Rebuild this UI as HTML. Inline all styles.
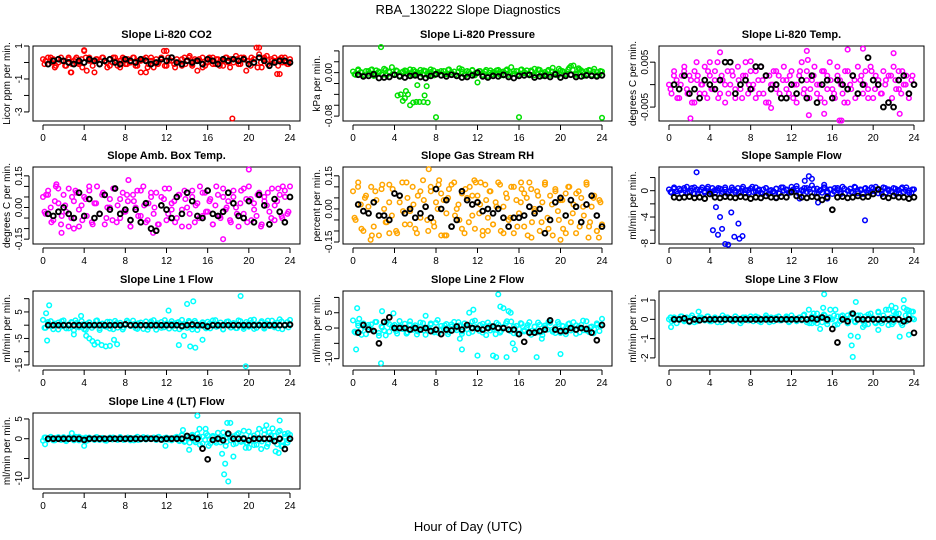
<!DOCTYPE html>
<html><head><meta charset="utf-8"><style>
body{margin:0;background:#fff}
svg{display:block;font-family:"Liberation Sans",sans-serif}
</style></head><body>
<svg id="c" width="936" height="540" viewBox="0 0 936 540">
<text x="468" y="14" font-size="13" text-anchor="middle">RBA_130222  Slope Diagnostics</text>
<text x="468" y="531" font-size="13" text-anchor="middle">Hour of Day (UTC)</text>
</svg>
<script>
// ---- data ----
const titles=["Slope Li-820 CO2","Slope Li-820 Pressure","Slope Li-820 Temp.","Slope Amb. Box Temp.","Slope Gas Stream RH","Slope Sample Flow","Slope Line 1 Flow","Slope Line 2 Flow","Slope Line 3 Flow","Slope Line 4 (LT) Flow"];
const yTitles=["Licor ppm per min.","kPa per min.","degrees C per min.","degrees C per min.","percent per min.","ml/min per min.","ml/min per min.","ml/min per min.","ml/min per min.","ml/min per min."];
const xTicks=[0,4,8,12,16,20,24];
const yDomains=[[1.0,-3.55],[0.049,-0.089],[0.0086,-0.0081],[0.192,-0.173],[0.19,-0.159],[3.6,-8.1],[12.9,-15.4],[12.1,-12.4],[1.47,-2.42],[6.5,-12.7]];
const yTicks=[[1,0,-1,-2,-3],[0.04,0.02,0,-0.02,-0.04,-0.06,-0.08],[0.005,0,-0.005],[0.15,0.10,0.05,0,-0.05,-0.10,-0.15],[0.15,0.10,0.05,0,-0.05,-0.10,-0.15],[2,0,-2,-4,-6,-8],[10,5,0,-5,-10,-15],[10,5,0,-5,-10],[1,0,-1,-2],[5,0,-5,-10]];
const yTickLabels=[["1","","-1","","-3"],["","","0.00","","","","-0.08"],["0.005","","-0.005"],["0.15","","","0.00","","","-0.15"],["0.15","","","0.00","","","-0.15"],["","0","","-4","","-8"],["","5","","-5","","-15"],["","5","0","","-10"],["1","0","-1","-2"],["5","0","","-10"]];
const colors=["#ff0000","#00e000","#ff00ff","#ff00ff","#ffa500","#0000ff","#00ffff","#00ffff","#00ffff","#00ffff"];

const band0=[0.2,0.1,-0.1,0.3,0.2,-0.2,0.0,0.3,0.1,-0.2,0.2,-0.6,0.1,0.3,-0.1,0.2,0.7,-0.5,0.3,0.1,-0.6,0.2,-0.1,0.3,0.1,-0.3,0.2,0.0,0.3,-0.2,0.1,0.3,-0.1,0.2,0.0,0.3,-0.2,0.1,-0.6,0.2,0.3,-0.1,0.1,-0.3,0.2,0.0,0.3,0.7,-0.2,0.1,0.3,-0.1,0.2,0.0,-0.2,0.3,0.1,0.4,-0.1,0.2,-0.5,0.1,0.3,-0.2,0.0,0.2,0.3,-0.1,0.2,0.1,-0.2,0.3,0.0,0.2,0.2,0.4,-0.1,0.3,0.2,-0.5,0.1,0.3,0.2,0.9,0.5,-0.3,0.2,0.4,-0.2,0.1,0.3,-0.7,0.2,0.0,0.3,-0.1,0.2];
const bandB0=[-0.1,0.3,0.0,-0.3,0.2,0.1,-0.2,0.3,-0.1,0.2,0.0,-0.3,0.3,0.1,-0.2,0.2,-0.1,0.3,0.0,-0.2,0.3,0.1,-0.3,0.2,-0.1,0.0,0.3,-0.2,0.1,0.2,-0.3,0.3,0.0,-0.1,0.2,-0.2,0.3,0.1,-0.3,0.0,0.2,-0.1,0.3,-0.2,0.1,0.2,-0.3,0.0,0.3,-0.1,0.2,-0.2,0.1,0.3,-0.3,0.0,0.2,-0.1,0.3,0.1,-0.2,0.2,-0.3,0.0,0.3,-0.1,0.2,0.1,-0.2,0.3,0.0,-0.1];
const outX0=[18.4,4.0,12.0,2.7,10.0,21.0,23.0];
const outY0=[-3.4,0.75,0.7,-0.6,-0.6,0.9,-0.7];
const black0=[-0.1,0.1,0.2,0.1,0.0,-0.1,0.1,0.0,0.2,0.1,-0.1,0.1,0.2,0.0,-0.1,0.2,0.1,0.0,0.2,0.1,-0.1,0.0,0.2,0.1,0.3,0.0,-0.1,0.1,0.0,0.1,-0.1,0.2,0.1,-0.1,0.2,0.1,0.2,0.1,0.2,-0.1,0.0,0.3,0.1,-0.2,0.0,0.1,0.1,0.0];

const band1=[0.002,-0.004,0.006,0.001,-0.005,0.003,-0.002,0.005,-0.006,0.004,0.000,-0.003,0.007,-0.005,0.002,0.010,-0.004,0.003,-0.006,0.001,0.004,-0.003,0.006,-0.005,0.002,-0.001,0.005,-0.004,0.003,-0.006,0.001,0.004,-0.002,0.000,-0.005,0.003,-0.003,0.006,-0.004,0.002,-0.006,0.008,0.001,-0.004,0.003,-0.002,0.005,-0.005,0.000,0.003,-0.004,0.002,-0.006,0.004,0.001,-0.003,0.005,-0.005,0.002,0.004,-0.004,0.010,-0.002,0.003,-0.006,0.006,-0.001,0.004,-0.005,0.002,0.007,-0.003,0.005,-0.006,0.001,0.003,-0.004,0.009,0.000,-0.005,0.004,0.002,-0.003,0.006,0.012,0.013,-0.002,0.008,0.004,-0.006,0.003,0.005,-0.004,0.007,0.001,-0.003,0.002];
const bandB1=[-0.003,0.004,0.000,-0.005,0.003,0.006,-0.002,0.002,-0.004,0.005,0.001,-0.003,0.004,-0.006,0.002,0.003,-0.001,0.005,-0.004,0.000,0.004,-0.002,0.006,-0.005,0.001,0.003,-0.003,0.005,0.000,-0.004,0.002,0.006,-0.005,0.001,0.004,-0.002,0.003,-0.006,0.005,0.000,-0.003,0.004,0.002,-0.005,0.006,-0.001,0.003,-0.004,0.005,0.001,-0.002,0.004,-0.005,0.006,0.000,-0.003,0.005,0.002,-0.004,0.007,0.003,-0.002,0.009,0.005,-0.004,0.006,0.001,-0.003,0.004,0.002,-0.005,0.003];
const outX1=[2.7,4.3,4.6,4.8,5.0,5.1,5.3,5.5,5.8,6.1,6.4,6.8,6.9,7.2,6.2,7.1,8.0,12.0,16.0,24.0];
const outY1=[0.047,-0.042,-0.040,-0.052,-0.047,-0.034,-0.040,-0.060,-0.055,-0.054,-0.054,-0.054,-0.042,-0.055,-0.023,-0.025,-0.082,-0.018,-0.082,-0.083];
const black1=[-0.004,-0.007,-0.006,-0.003,-0.010,-0.009,-0.008,-0.004,-0.007,-0.009,-0.006,-0.005,-0.008,-0.010,-0.006,-0.003,-0.005,-0.007,-0.004,-0.006,-0.009,-0.008,-0.005,0.000,-0.007,-0.009,-0.006,-0.007,-0.004,-0.008,-0.010,-0.006,-0.005,-0.004,-0.009,-0.007,-0.006,-0.008,-0.003,-0.009,-0.006,-0.004,-0.008,-0.007,-0.005,-0.006,-0.007,-0.005];

const band2=[0.000,-0.002,0.003,0.001,-0.003,0.002,0.004,-0.001,0.002,-0.004,0.003,0.001,-0.002,0.000,0.004,-0.003,0.002,-0.001,0.003,0.005,-0.002,0.001,-0.004,0.003,0.000,0.002,-0.003,0.004,-0.001,0.002,0.005,-0.002,0.003,0.000,-0.003,0.001,0.004,-0.002,0.002,-0.004,0.000,0.003,-0.001,0.002,-0.003,0.004,0.001,-0.002,0.003,0.000,-0.004,0.002,0.005,-0.001,0.003,-0.003,0.001,0.004,-0.002,0.000,0.003,-0.004,0.002,0.005,-0.001,-0.003,0.004,0.001,-0.002,0.003,-0.004,0.000,0.002,-0.003,0.004,0.001,-0.002,0.003,-0.001,0.004,-0.003,0.002,0.000,-0.002,0.003,0.001,-0.004,0.002,0.004,-0.001,0.003,-0.002,0.000,0.002,-0.003,0.001,0.000];
const bandB2=[-0.001,0.002,-0.003,0.000,0.003,-0.002,0.001,-0.004,0.002,0.000,-0.002,0.003,-0.001,0.001,-0.003,0.002,0.000,-0.002,0.003,-0.001,0.001,-0.003,0.002,0.000,-0.001,0.003,-0.002,0.001,-0.004,0.002,0.000,0.003,-0.002,0.001,-0.001,0.002,-0.003,0.000,0.003,-0.002,0.001,-0.001,0.002,0.000,-0.003,0.003,-0.001,0.001,-0.002,0.002,0.000,-0.004,0.003,-0.001,0.001,-0.002,0.002,0.000,-0.003,0.003,-0.001,0.001,-0.002,0.000,0.002,-0.003,0.001,-0.001,0.003,0.000,-0.002,0.002];
const outX2=[2.1,5.0,8.0,13.5,13.7,17.5,19.0,22.0,15.2,10.0,16.7,16.9,13.6,22.6,4.0,2.7];
const outY2=[-0.0075,0.0072,0.0052,0.0075,-0.0068,0.0078,0.0080,0.0070,-0.0065,-0.0052,-0.0080,-0.0080,0.0055,-0.0065,0.0050,0.0050];
const black2=[0.000,-0.001,0.002,-0.002,-0.001,-0.003,0.001,0.000,-0.001,0.001,0.005,0.005,-0.002,0.000,0.001,-0.001,0.004,0.004,0.002,-0.001,0.000,-0.003,-0.003,0.000,-0.002,0.001,-0.003,0.002,-0.004,0.000,0.001,-0.003,0.001,0.000,-0.001,0.002,-0.002,0.000,0.006,0.001,0.000,-0.005,-0.004,-0.005,0.001,0.002,-0.002,0.000];

const band3=[0.05,-0.03,0.08,0.00,-0.06,0.10,0.02,-0.08,0.06,-0.02,0.09,-0.05,0.03,0.07,-0.09,0.01,0.05,-0.04,0.08,-0.07,0.02,0.10,-0.03,0.06,-0.08,0.00,0.04,-0.06,0.09,0.01,-0.05,0.07,-0.02,0.03,-0.09,0.06,0.00,-0.04,0.08,0.10,-0.07,0.02,0.05,-0.03,0.07,-0.08,0.01,0.04,-0.06,0.09,-0.01,0.03,-0.05,0.06,-0.09,0.08,0.00,-0.03,0.05,-0.07,0.02,0.10,-0.04,0.07,-0.02,0.04,-0.08,0.01,0.06,-0.05,0.09,-0.01,0.03,-0.07,0.05,0.00,-0.09,0.08,-0.03,0.04,0.10,-0.06,0.02,-0.04,0.07,-0.08,0.05,0.01,-0.02,0.09,-0.06,0.03,0.06,-0.05,0.08,-0.03,0.10];
const bandB3=[-0.02,0.06,-0.07,0.03,0.09,-0.04,0.01,-0.09,0.05,0.08,-0.01,-0.06,0.04,0.10,-0.08,0.02,-0.03,0.07,-0.05,0.00,0.09,-0.07,0.04,-0.02,0.06,-0.09,0.03,0.08,-0.04,0.01,-0.06,0.07,0.00,-0.08,0.05,0.09,-0.03,0.02,-0.07,0.06,-0.01,0.04,-0.09,0.08,0.01,-0.05,0.07,-0.02,0.03,-0.08,0.10,-0.04,0.05,0.00,-0.06,0.08,-0.03,0.02,0.09,-0.07,0.04,-0.01,0.06,-0.09,0.03,0.07,-0.05,0.01,0.09,-0.04,0.05,-0.02];
const outX3=[1.3,0.3,1.8,3.0,10.7,17.5,20.0,8.3,23.3];
const outY3=[0.11,0.06,-0.12,-0.10,-0.12,-0.15,0.18,0.13,0.10];
const black3=[-0.03,-0.04,-0.02,0.00,-0.03,-0.05,0.07,-0.04,0.04,-0.05,-0.03,0.06,-0.01,0.09,-0.03,-0.01,-0.06,-0.01,-0.07,0.02,-0.10,-0.11,0.01,-0.01,-0.05,0.05,-0.03,0.07,0.03,-0.04,-0.05,0.08,-0.03,-0.04,-0.02,0.07,0.02,-0.04,-0.05,0.03,-0.07,0.06,0.01,-0.08,0.04,-0.02,-0.07,0.05];

const band4=[0.08,-0.05,0.12,0.02,-0.10,0.06,-0.02,0.10,-0.08,0.04,-0.12,0.09,0.00,-0.06,0.11,-0.03,0.07,-0.11,0.03,0.12,-0.07,0.05,-0.01,0.10,-0.09,0.06,-0.04,0.13,0.01,-0.10,0.08,-0.06,0.03,0.11,-0.12,0.04,-0.02,0.09,-0.08,0.12,0.00,-0.05,0.07,-0.11,0.05,0.10,-0.03,-0.09,0.06,0.02,-0.12,0.11,-0.04,0.08,-0.07,0.03,0.12,-0.10,0.01,0.07,-0.05,0.10,-0.11,0.04,-0.02,0.09,-0.08,0.05,0.12,-0.06,0.00,0.08,-0.10,0.03,0.11,-0.04,0.06,-0.12,0.09,-0.01,0.04,-0.09,0.07,0.10,-0.06,0.02,-0.11,0.08,0.05,-0.03,0.12,-0.08,0.01,0.06,-0.10,0.04,-0.07];
const bandB4=[-0.04,0.10,-0.09,0.05,0.01,-0.12,0.08,-0.03,0.11,-0.06,0.03,0.09,-0.10,0.06,-0.01,0.12,-0.07,0.02,-0.11,0.08,0.04,-0.05,0.10,-0.08,0.00,0.07,-0.12,0.05,0.11,-0.03,0.02,-0.09,0.09,-0.06,0.06,0.12,-0.02,-0.10,0.04,0.08,-0.07,0.01,0.11,-0.11,0.05,-0.04,0.10,-0.08,0.03,0.07,-0.12,0.09,-0.01,0.06,-0.06,0.12,-0.09,0.02,0.08,-0.05,0.04,-0.11,0.10,-0.02,0.07,-0.08,0.01,0.11,-0.06,0.05,-0.10,0.03];
const outX4=[1.7,7.3,8.3,3.5,11.7,16.2,17.2,20.0,22.7,23.7,13.0,12.3,9.0];
const outY4=[-0.14,0.18,0.13,-0.11,0.13,0.12,-0.13,-0.14,-0.13,-0.13,-0.10,0.12,-0.12];
const black4=[0.02,-0.01,-0.02,0.03,-0.03,-0.03,-0.05,0.07,0.06,-0.02,0.00,-0.04,-0.02,0.01,-0.04,0.09,0.00,0.04,-0.08,-0.05,0.08,0.04,0.02,0.03,-0.01,0.00,-0.02,0.00,-0.04,-0.08,-0.04,-0.04,-0.03,0.01,-0.02,0.00,-0.11,-0.05,0.03,0.05,-0.03,0.04,0.01,-0.06,0.02,0.06,-0.03,-0.08];

const band5=[0.2,-0.3,0.5,-0.1,0.3,-0.4,0.1,0.6,-0.2,0.4,-0.5,0.2,0.0,0.5,-0.3,0.3,-0.1,0.4,-0.4,0.1,0.3,-0.2,0.5,-0.5,0.0,0.2,-0.3,0.4,-0.1,0.6,-0.4,0.1,0.3,-0.2,0.5,0.0,-0.3,0.2,0.4,-0.5,0.1,-0.1,0.3,-0.4,0.5,0.0,0.2,-0.3,0.6,-0.1,0.3,-0.5,0.1,0.4,-0.2,0.2,0.8,-0.4,0.3,0.0,-0.3,0.5,-0.1,0.2,-0.5,0.4,0.1,-0.2,0.6,-0.4,0.0,0.3,-0.3,0.5,-0.1,0.2,-0.5,0.4,0.1,-0.2,0.3,0.6,-0.4,0.0,0.5,-0.3,0.2,-0.1,0.4,-0.5,0.1,0.3,-0.2,0.5,0.0,-0.3,0.2];
const bandB5=[-0.2,0.3,-0.5,0.1,0.4,-0.3,0.0,0.5,-0.4,0.2,-0.1,0.6,-0.3,0.1,0.4,-0.5,0.2,-0.2,0.5,0.0,-0.4,0.3,0.1,-0.3,0.6,-0.1,0.2,-0.5,0.4,0.0,-0.2,0.3,-0.4,0.5,0.1,-0.3,0.2,0.7,-0.5,0.0,0.4,-0.2,0.3,-0.4,0.1,0.5,-0.3,0.2,-0.1,0.4,-0.5,0.3,0.0,-0.2,0.6,-0.4,0.1,0.3,-0.3,0.5,-0.1,0.2,-0.5,0.4,0.0,-0.2,0.3,-0.4,0.5,0.1,-0.3,0.2];
const outX5=[2.7,4.3,4.6,4.8,5.0,5.2,5.5,5.8,6.1,6.4,6.8,6.9,7.2,13.3,13.7,14.0,14.6,15.2,15.5,19.2,10.5,12.8];
const outY5=[2.8,-6.0,-2.5,-6.7,-4.0,-5.8,-8.1,-8.2,-3.3,-7.0,-5.0,-7.3,-6.9,1.5,2.2,1.8,-1.8,0.9,-1.2,-4.5,-1.0,-1.2];
const black5=[-1.0,-1.1,-1.0,-0.9,-1.1,-1.0,-1.2,-0.5,-1.0,-1.1,-0.9,-1.0,-1.1,-0.9,-1.0,-1.2,-1.0,-1.1,-0.8,-1.0,-1.1,-0.9,-1.0,-0.2,-0.8,-1.0,-1.1,-0.9,-1.0,-1.4,-1.0,-2.9,-1.0,-0.9,-1.1,-1.0,-0.8,-1.0,-0.9,-0.5,0.2,-0.9,-1.1,-0.8,-1.0,-1.0,-1.2,-1.0];

const band6=[2.0,-1.0,0.5,1.5,-1.5,0.0,1.0,-0.5,1.8,-1.2,0.3,1.2,-2.0,0.8,-0.8,1.5,-1.5,0.5,1.0,-1.0,0.0,1.8,-1.8,0.6,-0.4,1.3,-1.3,0.2,1.6,-0.9,0.9,-1.6,0.4,1.1,-0.3,1.7,-1.1,0.7,0.0,-1.4,1.4,-0.6,0.8,1.9,-1.7,0.1,1.2,-0.8,0.6,-1.3,1.5,-0.2,0.9,-1.5,2.0,0.4,-1.0,1.1,-0.5,1.6,-1.8,0.3,0.8,-0.7,1.3,-1.2,0.5,1.9,-0.4,1.0,-1.6,0.2,1.4,-0.9,0.7,-1.1,1.8,0.0,-1.4,1.2,-0.6,0.9,2.1,-1.0,0.4,1.5,-1.3,0.6,-0.3,1.7,-0.8,1.0,2.2,-1.5,0.3,1.2,2.0];
const bandB6=[-1.0,1.2,-0.4,0.6,-1.6,1.5,0.0,-1.2,0.9,1.8,-0.7,0.3,-1.8,1.1,-0.2,1.6,-1.1,0.5,-0.6,1.3,-1.5,0.8,0.1,-0.9,1.7,-0.3,0.4,-1.4,1.0,0.2,-1.7,1.4,-0.5,0.7,-1.0,1.9,-0.1,0.6,-1.3,1.2,-0.8,0.3,1.6,-1.6,0.9,-0.4,1.1,-1.2,0.5,1.8,-0.6,0.0,-1.5,1.3,-0.2,0.8,-1.1,1.5,-0.7,0.4,1.9,-1.4,0.2,1.0,-0.9,1.7,-0.3,0.6,-1.2,1.4,0.1,-0.8];
const outX6=[0.3,0.4,0.6,4.2,4.5,4.8,5.0,5.3,5.7,6.1,6.5,6.9,7.2,3.7,12.2,13.2,13.7,14.0,14.3,14.6,14.8,19.2,19.7,3.0,15.5];
const outY6=[4.5,-5.8,7.5,-4.0,-5.0,-6.0,-7.3,-6.5,-7.5,-8.0,-7.8,-5.5,-7.2,3.5,5.5,-7.5,-4.0,8.0,-8.0,9.0,-8.5,11.0,-15.5,-3.5,-5.5];
const black6=[0,0,0,0,0,0,0,0,0,0,0,0,0,0,0,0.3,0,0,0,0,0,0,0,0,0,0,-0.3,0,0.2,0,0,-0.5,0,0,0,0,0,0,0,0,0,0,0,0,0,0,0,0.2];

const band7=[2.5,-1.5,0.8,-0.5,1.5,-2.0,0.3,1.2,-1.0,2.0,-2.5,0.5,-0.8,1.8,-1.2,0.0,1.0,-1.8,0.6,-0.3,1.4,-1.4,2.2,-0.6,0.9,-1.1,0.4,1.6,-2.2,0.2,1.1,-0.9,1.7,-1.6,0.7,-0.2,1.3,-1.3,0.5,2.0,-0.7,0.8,-1.9,1.5,-0.4,0.9,-1.2,2.4,-0.1,1.0,-1.5,0.6,1.8,-0.8,0.3,-2.0,1.2,-1.0,0.4,1.6,-0.6,2.1,-1.7,0.7,-0.3,1.4,-1.1,0.2,1.9,-0.9,0.5,-1.4,1.1,-2.3,0.8,-0.5,1.7,-1.2,0.3,2.0,-1.6,0.6,-0.2,1.3,-0.8,1.9,-1.9,0.4,1.0,-0.7,2.2,-1.3,0.5,-0.4,1.5,-1.0,3.0];
const bandB7=[-1.2,1.6,-2.2,0.4,1.0,-0.6,2.0,-1.6,0.2,-2.4,1.3,0.7,-1.0,2.3,-0.3,-1.8,1.1,0.5,-2.1,1.8,-0.8,0.0,1.5,-1.4,2.6,-0.5,0.9,-2.0,1.2,-0.2,1.9,-1.1,0.6,-1.7,2.1,0.3,-0.9,1.4,-2.3,0.8,-0.4,1.7,-1.5,0.1,2.2,-1.0,0.5,-1.9,1.6,-0.7,1.0,-2.2,0.4,1.8,-1.3,0.2,2.0,-0.6,-1.6,1.3,0.7,-2.0,1.5,-0.3,0.9,-1.4,2.4,-0.8,0.3,-1.7,1.1,0.6];
const outX7=[0.3,0.4,0.6,2.7,2.8,3.9,10.5,11.2,11.6,12.0,13.5,13.8,14.0,14.2,14.5,14.8,15.0,15.2,15.4,15.6,17.7,18.2,20.0,10.3,7.0];
const outY7=[-7.0,6.5,3.0,-11.5,5.5,4.8,-7.0,5.0,6.0,-9.0,-9.0,-9.5,11.0,7.0,6.5,-9.5,5.5,5.0,-5.0,-7.0,-9.5,-3.5,-8.5,-3.5,4.0];
const black7=[-1.5,1.0,-0.5,-1.0,-5.0,2.0,3.5,0.0,0.0,0.0,-0.5,0.0,-0.5,0.0,-1.0,-0.5,-2.0,-0.5,-0.8,0.5,-0.5,1.0,0.0,-0.2,-0.5,0.0,0.5,0.0,0.0,-0.5,-0.5,-2.0,-4.5,-1.5,-1.5,-1.0,-0.5,2.5,-0.5,-1.0,-1.0,0.0,-0.5,0.0,-0.3,-1.5,-4.0,1.0];

const band8=[0.0,-0.1,0.1,-0.2,0.05,0.15,-0.05,0.1,-0.15,0.2,0.0,-0.1,0.1,0.05,-0.05,0.15,-0.1,0.0,0.1,-0.15,0.05,0.2,-0.05,0.1,0.0,-0.1,0.15,0.05,-0.2,0.1,0.0,-0.05,0.15,-0.1,0.05,0.1,-0.15,0.0,0.2,-0.05,0.1,-0.1,0.05,0.15,-0.05,0.0,0.1,-0.15,0.2,0.05,-0.1,0.1,-0.05,0.25,0.0,-0.2,0.15,-0.1,0.3,0.05,-0.15,0.2,-0.25,0.1,0.0,-0.3,0.15,-0.1,0.2,0.05,-0.2,0.1,0.25,-0.15,0.0,0.2,-0.1,0.15,-0.25,0.3,0.05,-0.2,0.4,-0.1,0.2,0.5,-0.3,0.1,-0.15,0.3,0.0,-0.2,0.6,-0.1,0.2,0.4,0.0];
const bandB8=[0.1,-0.05,0.0,0.15,-0.1,0.05,0.1,-0.15,0.0,0.1,-0.05,0.15,-0.1,0.05,0.0,-0.15,0.1,0.05,-0.05,0.15,0.0,-0.1,0.1,-0.05,0.05,0.15,-0.1,0.0,0.1,-0.15,0.05,0.1,-0.05,0.0,0.15,-0.1,0.05,-0.05,0.1,0.2,-0.15,0.0,0.3,-0.2,0.1,0.25,-0.1,0.0,0.2,-0.25,0.15,0.05,-0.2,0.3,-0.1,0.2,0.0,-0.3,0.25,0.1,-0.15,0.35,-0.2,0.05,0.5,-0.25,0.15,0.3,-0.3,0.2,0.45,0.05];
const outX8=[0.2,2.9,14.0,15.2,15.1,15.8,16.3,17.5,17.8,18.0,17.9,18.3,18.5,19.0,20.5,21.8,22.0,22.2,22.6,23.0,23.3,23.5,23.9,14.8,13.7];
const outY8=[-0.4,0.4,-0.2,1.3,0.6,0.5,0.5,0.2,-0.85,-1.95,-1.35,0.9,-0.9,-0.4,-0.55,0.7,0.4,0.6,-0.9,1.0,0.5,-0.8,0.4,-0.5,0.5];
const black8=[0,0,0.05,-0.1,0,-0.05,0,0,0,0,0,0,0,0,0,0,0,0,0,0,0,0,0,0,0,0,0,0.05,0,0.1,0,-0.5,-1.2,0,-0.1,0.3,0,0,0,0,0,0,0,0,0,-0.1,0,-0.7];

const band9=[-0.5,0.3,-0.2,0.5,-0.4,0.2,0.0,-0.3,0.4,-0.6,0.3,0.0,-0.4,0.2,0.5,-0.2,0.1,-0.5,0.3,0.0,-0.3,0.4,-0.1,0.2,-0.4,0.0,0.3,-0.2,0.1,-0.3,0.4,0.0,-0.2,0.3,-0.4,0.1,0.2,-0.3,0.0,0.4,-0.2,0.1,-0.1,0.3,-0.3,0.5,0.0,-0.2,0.3,0.1,-0.4,0.2,0.5,-0.6,1.0,-0.8,0.6,-1.0,0.8,-0.5,1.2,-1.5,0.5,-0.3,0.9,-1.2,0.4,-0.6,1.5,-0.9,0.2,-1.8,1.0,-0.4,0.6,-1.2,1.4,-0.8,0.3,-1.0,1.8,-0.5,0.8,-1.5,2.5,-0.7,1.1,-2.0,1.6,-0.3,0.7,-1.4,2.0,-0.6,1.2,-1.0,1.0];
const bandB9=[0.3,-0.2,0.1,-0.4,0.4,0.0,-0.3,0.2,-0.1,0.5,-0.4,0.1,0.3,-0.2,0.0,0.4,-0.3,0.2,-0.5,0.1,0.3,-0.1,0.4,-0.3,0.0,0.2,-0.4,0.5,-0.2,0.1,0.3,-0.1,0.0,0.4,-0.3,0.2,-0.2,0.1,0.3,-0.4,0.8,-0.6,0.3,1.0,-0.9,0.5,-1.2,1.4,-0.3,0.7,-1.0,0.2,1.6,-0.8,0.4,-1.4,1.1,-0.5,2.0,-1.1,0.6,-1.6,1.3,-0.2,2.2,-1.3,0.9,-0.7,1.7,-1.9,0.5,-0.4];
const outX9=[0.2,4.0,11.9,13.6,14.2,15.0,15.2,15.8,16.1,17.4,17.6,17.7,17.9,18.0,18.2,18.5,19.7,20.0,21.2,21.7,22.3,22.6,22.9,23.0,23.3,23.8,2.8];
const outY9=[-1.4,-1.8,-1.8,2.2,-2.8,5.8,2.5,2.5,-1.8,-3.8,-9.0,-6.3,4.0,-10.8,4.0,-4.5,-2.3,-2.3,-2.6,3.4,2.6,-3.2,-3.6,4.6,-1.8,1.4,1.4];
const black9=[0,0,0,0,0,0,0,-0.3,0,0,0,0,0,0,0,0,0,0,0,0,0,0,-0.2,0,0,0,0,0.7,0.3,0,-2.5,-5.2,-0.3,0,-0.4,1.3,0,0,0,-0.4,0,0,0,0,-0.6,0,-2.6,0];

const bands=[band0,band1,band2,band3,band4,band5,band6,band7,band8,band9];
const bandsB=[bandB0,bandB1,bandB2,bandB3,bandB4,bandB5,bandB6,bandB7,bandB8,bandB9];
const outXs=[outX0,outX1,outX2,outX3,outX4,outX5,outX6,outX7,outX8,outX9];
const outYs=[outY0,outY1,outY2,outY3,outY4,outY5,outY6,outY7,outY8,outY9];
const blacks=[black0,black1,black2,black3,black4,black5,black6,black7,black8,black9];

// ---- layout ----
const colL=[33,343,659], colR=[300,612,924];
const rowT=[46,167,291,413], rowB=[121,244,366,489];
const NS="http://www.w3.org/2000/svg";
const svg=document.getElementById('c');
function mk(tag,attrs,parent){const e=document.createElementNS(NS,tag);for(const k in attrs)e.setAttribute(k,attrs[k]);(parent||svg).appendChild(e);return e;}

for(let p=0;p<10;p++){
  const r=Math.floor(p/3), c=p%3;
  const L=colL[c],R=colR[c],T=rowT[r],B=rowB[r];
  const xs=h=>L+10+(R-L-20)*h/24;
  const [d0,d1]=yDomains[p];
  const ys=v=>T+(B-T)*(d0-v)/(d0-d1);
  const g=mk('g',{});
  
  
  const box=mk('rect',{x:L,y:T,width:R-L,height:B-T,fill:'none',stroke:'#000','stroke-width':1},g);
  
  
  const tt=mk('text',{x:(L+R)/2,y:T-8,'font-size':11,'font-weight':'bold','text-anchor':'middle'},g);
  tt.textContent=titles[p];
  
  
  const yt=mk('text',{x:0,y:0,'font-size':10,'text-anchor':'middle',transform:`translate(${L-23},${(T+B)/2}) rotate(-90)`},g);
  yt.textContent=yTitles[p];
  
  
  const xa=mk('g',{},g);
  
  
  mk('line',{x1:xs(0),x2:xs(24),y1:B+4,y2:B+4,stroke:'#000'},xa);
  xTicks.forEach(t=>{
    mk('line',{x1:xs(t),x2:xs(t),y1:B+4,y2:B+9,stroke:'#000'},xa);
    const lb=mk('text',{x:xs(t),y:B+20,'font-size':10,'text-anchor':'middle'},xa);
    lb.textContent=t;
    
    
  });
  const ya=mk('g',{},g);
  
  
  const tk=yTicks[p];
  mk('line',{x1:L-4,x2:L-4,y1:ys(tk[0]),y2:ys(tk[tk.length-1]),stroke:'#000'},ya);
  tk.forEach((t,i)=>{
    mk('line',{x1:L-9,x2:L-4,y1:ys(t),y2:ys(t),stroke:'#000'},ya);
    const s=yTickLabels[p][i];
    if(s){const lb=mk('text',{x:0,y:0,'font-size':10,'text-anchor':'middle',transform:`translate(${L-11},${ys(t)}) rotate(-90)`},ya);
      lb.textContent=s;
      
      }
  });
  const col=colors[p];
  const sg=mk('g',{fill:'none',stroke:col,'stroke-width':1.5},g);
  
  
  [bands[p],bandsB[p]].forEach((band,k)=>{
    band.forEach((v,i)=>{
      const h=k*0.15+i*(24-k*0.3)/(band.length-1);
      const pt=mk('circle',{cx:xs(h),cy:ys(v),r:2.3},sg);
      
      
    });
  });
  outXs[p].forEach((h,i)=>{
    const pt=mk('circle',{cx:xs(h),cy:ys(outYs[p][i]),r:2.3},sg);
    
    
  });
  const bg=mk('g',{fill:'none',stroke:'#000','stroke-width':1.9},g);
  
  
  const bl=blacks[p];
  bl.forEach((v,i)=>{
    const h=0.5+i*23.5/(bl.length-1);
    const pt=mk('circle',{cx:xs(h),cy:ys(v),r:2.4},bg);
    
    
  });
}
</script>
</body></html>
